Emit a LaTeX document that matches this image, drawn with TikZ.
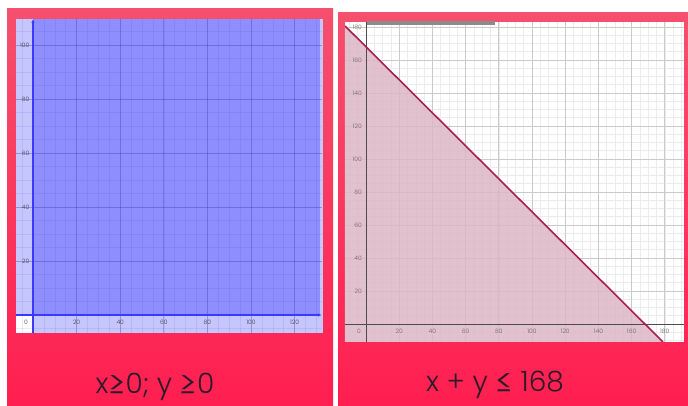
\documentclass[tikz,border=0pt]{standalone}
\usepackage{fontspec}
\IfFontExistsTF{Poppins Light}{\setmainfont{Poppins Light}}{\setmainfont{Poppins}}
\usetikzlibrary{arrows.meta}
\definecolor{panelTop}{HTML}{F5506E}
\definecolor{panelBot}{HTML}{FF1F50}
\definecolor{bandBlue}{HTML}{C6C6FF}
\definecolor{regionBlue}{HTML}{8E8EFF}
\definecolor{gridBlue}{HTML}{3A3AB0}
\definecolor{axisBlue}{HTML}{3A3AFF}
\definecolor{regionPink}{HTML}{DDB7C6}
\definecolor{linePink}{HTML}{A8204F}
\definecolor{gridGrayMinor}{HTML}{ECECEC}
\definecolor{gridGrayMajor}{HTML}{CACACA}
\definecolor{capText}{HTML}{2A1A2A}
\newcommand\relsym[1]{\raisebox{-0.17em}[0.75em][0pt]{\scalebox{1.3}{#1}}}
\tikzset{
    panel/.style={top color=panelTop, bottom color=panelBot, draw=none},
    ticklbl/.style={font=\fontsize{4.5}{5}\selectfont, inner sep=0pt},
    caption/.style={font=\fontsize{21}{24}\selectfont, text=capText, anchor=base, inner sep=0pt},
}
\begin{document}
\begin{tikzpicture}[x=0.75pt,y=-0.75pt]
    \useasboundingbox (0,0) rectangle (688,405);
    % left card
    \shade[panel] (7,8) rectangle (333,405);
    \fill[bandBlue] (16,19) rectangle (323,333);
    \fill[white] (16,316) rectangle (32,333);
    \fill[regionBlue] (33,19) rectangle (320,315);
    \begin{scope}[shift={(33,315)}, xscale=2.18, yscale=-2.7]
        \begin{scope}
            \clip (-7.8,-6.7) rectangle (132.6,109.6);
            \foreach \gx in {-5,0,...,130}
                \draw[gridBlue, opacity=0.1, line width=0.4pt] (\gx,-6.7) -- (\gx,109.6);
            \foreach \gy in {-5,0,...,105}
                \draw[gridBlue, opacity=0.1, line width=0.4pt] (-7.8,\gy) -- (132.6,\gy);
            \foreach \gx in {20,40,...,120}
                \draw[gridBlue, opacity=0.3, line width=0.6pt] (\gx,-6.7) -- (\gx,109.6);
            \foreach \gy in {20,40,...,100}
                \draw[gridBlue, opacity=0.3, line width=0.6pt] (-7.8,\gy) -- (132.6,\gy);
        \end{scope}
        \draw[axisBlue, line width=1.2pt, -{Stealth[length=2.5pt,width=2.5pt]}] (-7.6,0) -- (132.2,0);
        \draw[axisBlue, line width=1.2pt, -{Stealth[length=2.5pt,width=2.5pt]}] (0,-6.7) -- (0,109.4);
        \foreach \gy in {20,40,...,100}
            \node[ticklbl, text=black!75, anchor=east] (ly\gy) at (-1.6,\gy) {\gy};
        \foreach \gx in {20,40,...,120}
            \node[ticklbl, text=black!75] (lx\gx) at (\gx,-2.6) {\gx};
        \node[ticklbl, text=black!75] (lo) at (-3.2,-2.6) {0};
    \end{scope}
    \node[caption] (capL) at (155,393) {x\relsym{≥}0; y \relsym{≥}0};
    % right card
    \shade[panel] (338,12) rectangle (688,405);
    \fill[white] (345,22) rectangle (684,342);
    \begin{scope}[shift={(366,324)}, xscale=1.66, yscale=-1.65]
        \begin{scope}
            \clip (-12.7,-10.9) rectangle (191.6,183);
            \foreach \gx in {-10,-5,...,190}
                \draw[gridGrayMinor, line width=0.4pt] (\gx,-10.9) -- (\gx,183);
            \foreach \gy in {-10,-5,...,180}
                \draw[gridGrayMinor, line width=0.4pt] (-12.7,\gy) -- (191.6,\gy);
            \foreach \gx in {20,40,...,180}
                \draw[gridGrayMajor, line width=0.6pt] (\gx,-10.9) -- (\gx,183);
            \foreach \gy in {20,40,...,180}
                \draw[gridGrayMajor, line width=0.6pt] (-12.7,\gy) -- (191.6,\gy);
            \fill[regionPink, opacity=0.85] (-12.7,180.7) -- (178.9,-10.9) -- (-12.7,-10.9) -- cycle;
            \draw[black!70, line width=0.6pt] (0,-10.9) -- (0,183);
            \draw[black!70, line width=0.6pt] (-12.7,0) -- (191.6,0);
            \draw[linePink, line width=1.2pt] (-12.7,180.7) -- (178.9,-10.9);
        \end{scope}
        \foreach \gy in {20,40,...,180}
            \node[ticklbl, text=black!60, anchor=east] (ry\gy) at (-2.4,\gy) {\gy};
        \foreach \gx in {20,40,...,180}
            \node[ticklbl, text=black!60] (rx\gx) at (\gx,-4.2) {\gx};
        \node[ticklbl, text=black!60] (ro) at (-4.2,-4.2) {0};
    \end{scope}
    \fill[black!45] (367,21) rectangle (495,24.5);
    \node[caption] (capR) at (495,391) {x + y \relsym{≤} 168};
\end{tikzpicture}
\end{document}
